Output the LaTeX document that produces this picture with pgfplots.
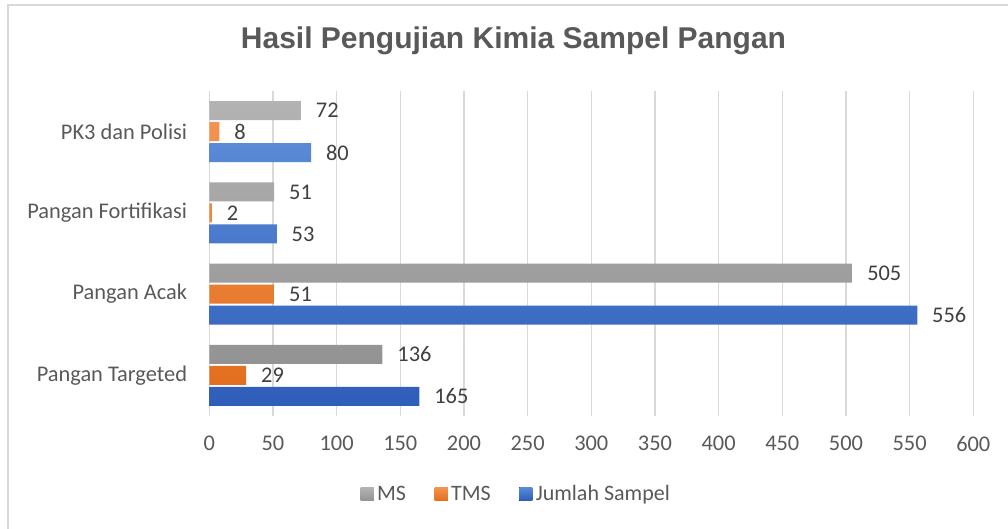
\documentclass[border=0pt]{standalone}
\usepackage{pgfplots}
\pgfplotsset{compat=1.18}
\usepackage{fontspec}
\setmainfont{Carlito}
\newfontfamily\titlefont{Liberation Sans}
\definecolor{txt}{HTML}{595959}
\definecolor{lbl}{HTML}{404040}
\definecolor{gridc}{HTML}{D9D9D9}
\definecolor{msT}{HTML}{B3B3B3}
\definecolor{msB}{HTML}{939393}
\definecolor{tmT}{HTML}{F39350}
\definecolor{tmB}{HTML}{E26F1E}
\definecolor{jsT}{HTML}{5A8AD6}
\definecolor{jsB}{HTML}{2E5EB9}
\begin{document}
\begin{tikzpicture}
\begin{axis}[
  at={(0pt,0pt)}, anchor=south west,
  scale only axis, width=573pt, height=243.75pt,
  xmin=0, xmax=600, ymin=-0.5, ymax=3.5,
  xtick={0,50,...,600},
  ytick={0,1,2,3},
  yticklabels={Pangan Targeted, Pangan Acak, Pangan Fortifikasi, PK3 dan Polisi},
  axis line style={draw=none},
  major tick length=0pt,
  xmajorgrids, grid style={gridc, line width=0.9pt},
  /pgf/number format/assume math mode=true,
  tick label style={font=\fontsize{16.8pt}{19pt}\selectfont, text=txt, inner sep=0pt},
  xticklabel style={anchor=north, yshift=-15pt},
  yticklabel style={anchor=east, xshift=-16.5pt},
  xbar, bar width=0.234,
  nodes near coords,
  every node near coord/.append style={font=\fontsize{16.8pt}{19pt}\selectfont, text=lbl, anchor=west, inner sep=0pt, xshift=11pt},
  legend style={at={(0.4027,-0.24)}, anchor=center, legend columns=3, draw=none, fill=none,
    font=\fontsize{16.5pt}{19pt}\selectfont, text=txt,
    nodes={inner xsep=2.5pt, inner ysep=1pt},
    /tikz/every even column/.append style={column sep=19pt}},
  legend cell align=left,
  legend image code/.code={\fill[#1] (0pt,-4.9pt) rectangle (9.8pt,4.9pt);},
  clip=false,
]
\draw[gridc, line width=0.9pt] (axis cs:0,-0.5) -- (axis cs:0,3.5);
\addplot[draw=none, top color=msT, bottom color=msB, bar shift=0.258] coordinates {(136,0) (505,1) (51,2) (72,3)};
\addplot[draw=none, top color=tmT, bottom color=tmB, bar shift=0] coordinates {(29,0) (51,1) (2,2) (8,3)};
\addplot[draw=none, top color=jsT, bottom color=jsB, bar shift=-0.258] coordinates {(165,0) (556,1) (53,2) (80,3)};
\legend{MS, TMS, Jumlah Sampel}
\end{axis}
\node[font=\titlefont\bfseries\fontsize{22.5pt}{26pt}\selectfont, text=txt] at (228.15pt,281.25pt) {Hasil Pengujian Kimia Sampel Pangan};
\draw[gridc, line width=1.5pt] (-150.975pt,-90pt) -- (-150.975pt,308.25pt) -- (610pt,308.25pt);
\pgfresetboundingbox
\path[use as bounding box] (-156.975pt,-84.75pt) rectangle (599.025pt,312pt);
\end{tikzpicture}
\end{document}
